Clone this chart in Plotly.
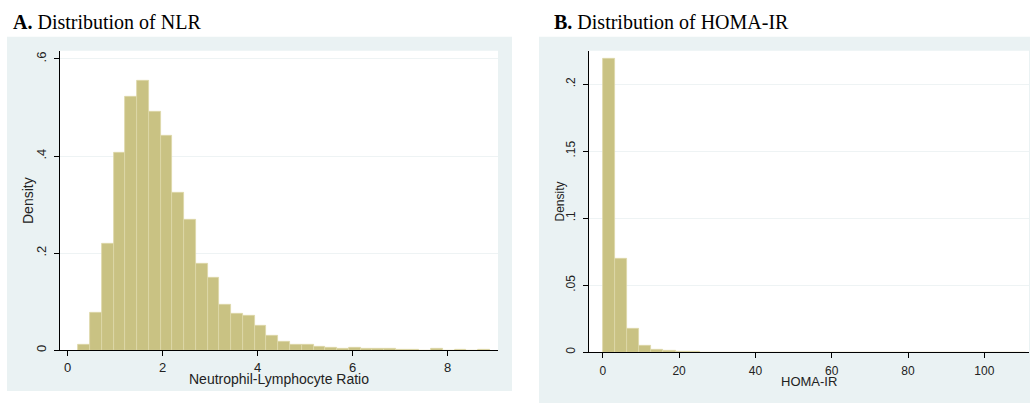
import numpy as np
import plotly.graph_objects as go

# ---------------- data ----------------
nlr_bin_start = 0.224
nlr_bin_width = 0.2476
nlr_density = [0.0116, 0.0765, 0.2190, 0.4075, 0.5215, 0.5556, 0.4920, 0.4420,
               0.3235, 0.2680, 0.1790, 0.1495, 0.0930, 0.0745, 0.0710, 0.0495,
               0.0294, 0.0184, 0.0116, 0.0116, 0.0068, 0.0061, 0.0027, 0.0048,
               0.0030, 0.0034, 0.0034, 0.0014, 0.0014, 0.0000, 0.0040, 0.0000,
               0.0014, 0.0000, 0.0014]
nlr_xticks = [0, 2, 4, 6, 8]
nlr_yticks = [0, 0.2, 0.4, 0.6]
nlr_yticklabels = ["0", ".2", ".4", ".6"]

homa_bin_start = 0.05
homa_bin_width = 3.17
homa_density = [0.2188, 0.0697, 0.0176, 0.0045, 0.0022, 0.0010, 0.0005, 0.0005,
                0.0000, 0.0000, 0.0000, 0.0000, 0.0000, 0.0000, 0.0000, 0.0000,
                0.0000, 0.0000, 0.0000, 0.0000, 0.0000, 0.0000, 0.0000, 0.0000,
                0.0000, 0.0000, 0.0000, 0.0000, 0.0000, 0.0000, 0.0000, 0.0000,
                0.0000, 0.0000, 0.0000]
homa_xticks = [0, 20, 40, 60, 80, 100]
homa_yticks = [0, 0.05, 0.1, 0.15, 0.2]
homa_yticklabels = ["0", ".05", ".1", ".15", ".2"]

title_a = "<b>A.</b> Distribution of NLR"
title_b = "<b>B.</b> Distribution of HOMA-IR"
xlabel_a = "Neutrophil-Lymphocyte Ratio"
xlabel_b = "HOMA-IR"
ylabel = "Density"

# ---------------- style ----------------
W, H = 1030, 403
BAR = "#C9C283"
BAR_LINE = "#DDD8A8"
REGION = "#EAF2F3"
GRID = "#EEF3F4"
SANS = "Liberation Sans, Arial, sans-serif"
SERIF = "Liberation Serif, Times New Roman, serif"
TXT = "#222222"

def px(x):
    return x / W

def py(y):
    return 1 - y / H

nlr_left = nlr_bin_start + nlr_bin_width * np.arange(len(nlr_density))
homa_left = homa_bin_start + homa_bin_width * np.arange(len(homa_density))

fig = go.Figure()
fig.add_trace(go.Bar(x=nlr_left, y=nlr_density, width=nlr_bin_width, offset=0,
                     marker=dict(color=BAR, line=dict(color=BAR_LINE, width=0.8)),
                     xaxis="x", yaxis="y", showlegend=False, hoverinfo="x+y"))
fig.add_trace(go.Bar(x=homa_left, y=homa_density, width=homa_bin_width, offset=0,
                     marker=dict(color=BAR, line=dict(color=BAR_LINE, width=0.8)),
                     xaxis="x2", yaxis="y2", showlegend=False, hoverinfo="x+y"))

# plot areas (pixels)
A = dict(l=60, r=498, t=51, b=352)
B = dict(l=589, r=1029, t=51, b=354)

axis_common = dict(showline=True, linecolor="#000000", linewidth=1,
                   ticks="outside", ticklen=5, tickcolor="#000000", tickwidth=1,
                   zeroline=False, fixedrange=True)

fig.update_layout(
    width=W, height=H,
    margin=dict(l=0, r=0, t=0, b=0),
    paper_bgcolor="white", plot_bgcolor="white",
    bargap=0,
    xaxis=dict(domain=[px(A["l"]), px(A["r"])], anchor="y",
               range=[-0.162, 9.06], tickvals=nlr_xticks,
               showgrid=False,
               tickfont=dict(family=SANS, size=13, color=TXT), **axis_common),
    yaxis=dict(domain=[py(A["b"]), py(A["t"])], anchor="x",
               range=[0, 0.6168], tickvals=nlr_yticks, ticktext=nlr_yticklabels,
               tickangle=-90, showgrid=True, gridcolor=GRID, gridwidth=1,
               ticklabelstandoff=3,
               tickfont=dict(family=SANS, size=13, color=TXT), **axis_common),
    xaxis2=dict(domain=[px(B["l"]), px(B["r"])], anchor="y2",
                range=[-3.6, 111.7], tickvals=homa_xticks,
                showgrid=False, ticklabelstandoff=2,
                tickfont=dict(family=SANS, size=12, color=TXT), **axis_common),
    yaxis2=dict(domain=[py(B["b"]), py(B["t"])], anchor="x2",
                range=[0, 0.2248], tickvals=homa_yticks, ticktext=homa_yticklabels,
                tickangle=-90, showgrid=True, gridcolor=GRID, gridwidth=1,
                ticklabelstandoff=3,
                tickfont=dict(family=SANS, size=12, color=TXT), **axis_common),
)

shapes = [
    dict(type="rect", xref="paper", yref="paper", x0=px(7), x1=px(512), y0=py(393), y1=py(37),
         fillcolor=REGION, line=dict(width=0), layer="below"),
    dict(type="rect", xref="paper", yref="paper", x0=px(539), x1=px(1032), y0=py(405), y1=py(37),
         fillcolor=REGION, line=dict(width=0), layer="below"),
    dict(type="rect", xref="paper", yref="paper", x0=px(A["l"]), x1=px(A["r"]), y0=py(A["b"]), y1=py(A["t"]),
         fillcolor="white", line=dict(width=0), layer="below"),
    dict(type="rect", xref="paper", yref="paper", x0=px(B["l"]), x1=px(B["r"]), y0=py(B["b"]), y1=py(B["t"]),
         fillcolor="white", line=dict(width=0), layer="below"),
]
fig.update_layout(shapes=shapes)

ann = [
    dict(text=title_a, x=px(11), y=py(22), xanchor="left", yanchor="middle",
         font=dict(family=SERIF, size=20, color="#000000")),
    dict(text=title_b, x=px(552), y=py(22), xanchor="left", yanchor="middle",
         font=dict(family=SERIF, size=20, color="#000000")),
    dict(text=xlabel_a, x=px(279), y=py(381), xanchor="center", yanchor="middle",
         font=dict(family=SANS, size=14, color=TXT)),
    dict(text=xlabel_b, x=px(809), y=py(383), xanchor="center", yanchor="middle",
         font=dict(family=SANS, size=13, color=TXT)),
    dict(text=ylabel, x=px(27.5), y=py(201.5), xanchor="center", yanchor="middle",
         textangle=-90, font=dict(family=SANS, size=14, color=TXT)),
    dict(text=ylabel, x=px(560), y=py(202.5), xanchor="center", yanchor="middle",
         textangle=-90, font=dict(family=SANS, size=12, color=TXT)),
]
for a in ann:
    a.update(xref="paper", yref="paper", showarrow=False)
fig.update_layout(annotations=ann)

fig.write_html("out.html", config={"displayModeBar": False},
               post_script="document.body.style.margin='0px';document.body.style.overflow='hidden';")
